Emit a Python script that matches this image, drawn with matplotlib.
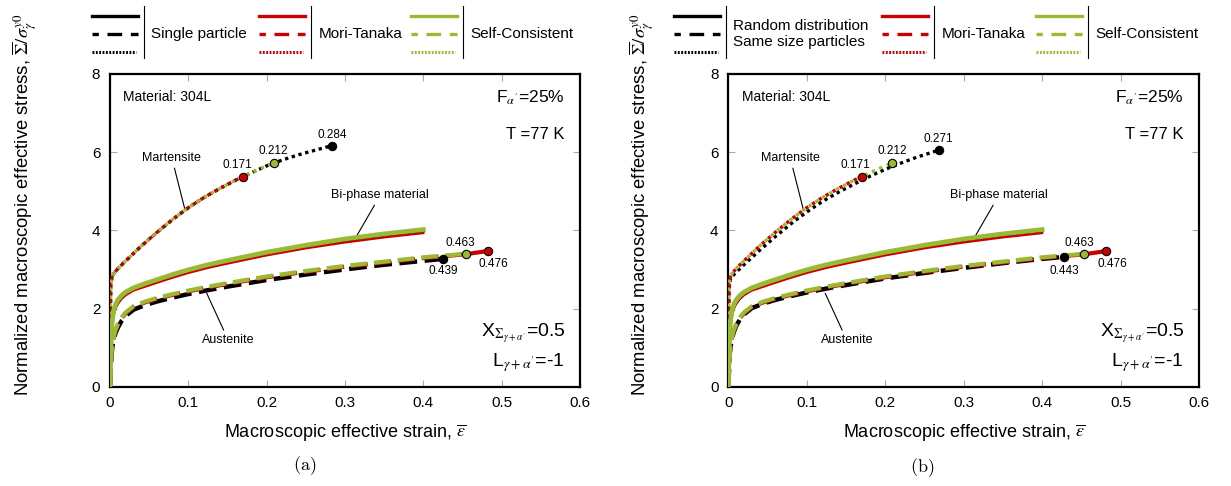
import matplotlib.pyplot as plt
from matplotlib.lines import Line2D

plt.rcParams['font.family'] = ['Liberation Sans', 'DejaVu Sans']
plt.rcParams['mathtext.fontset'] = 'stix'

BLACK = 'black'
RED = '#cc0000'
GREEN = '#99bb33'

# ---------------- data ----------------
# martensite (dotted); colored curves share one path, black one differs in (b)
mart_eps = [0, 0.0005, 0.001, 0.003, 0.01, 0.02, 0.04, 0.06, 0.08, 0.1, 0.12, 0.14, 0.16,
            0.18, 0.2, 0.22, 0.24, 0.26, 0.2835]
mart_sig = [0, 1.8, 2.6, 2.85, 3.02, 3.22, 3.6, 3.95, 4.28, 4.58, 4.84, 5.07, 5.28,
            5.47, 5.65, 5.8, 5.93, 6.04, 6.17]
mart_eps_black_b = [0, 0.0005, 0.001, 0.003, 0.01, 0.02, 0.04, 0.06, 0.08, 0.1, 0.12, 0.14, 0.16,
                    0.18, 0.2, 0.22, 0.24, 0.268]
mart_sig_black_b = [0, 1.75, 2.5, 2.78, 2.93, 3.12, 3.49, 3.84, 4.17, 4.47, 4.74, 4.97, 5.18,
                    5.38, 5.56, 5.72, 5.87, 6.05]
mart_end_red = 0.170
mart_end_green = 0.209

# bi-phase material (solid)
bi_eps = [0, 0.001, 0.002, 0.003, 0.005, 0.0075, 0.01, 0.015, 0.02, 0.03, 0.045, 0.06, 0.08,
          0.1, 0.125, 0.15, 0.2, 0.25, 0.3, 0.35, 0.4]
bi_sig_green = [0, 0.8, 1.45, 1.72, 1.98, 2.13, 2.22, 2.34, 2.42, 2.53, 2.64, 2.74, 2.87,
                2.99, 3.12, 3.23, 3.44, 3.62, 3.78, 3.91, 4.02]
bi_sig_black = [0, 0.78, 1.4, 1.66, 1.9, 2.05, 2.15, 2.28, 2.37, 2.49, 2.6, 2.7, 2.83,
                2.95, 3.08, 3.19, 3.4, 3.58, 3.74, 3.87, 3.98]
bi_sig_red = [0, 0.76, 1.37, 1.63, 1.87, 2.02, 2.12, 2.25, 2.34, 2.46, 2.56, 2.66, 2.79,
              2.91, 3.04, 3.15, 3.36, 3.54, 3.69, 3.82, 3.93]

# austenite (dashed)
aus_eps = [0, 0.002, 0.004, 0.007, 0.01, 0.015, 0.02, 0.03, 0.045, 0.06, 0.08, 0.1, 0.125,
           0.15, 0.2, 0.25, 0.3, 0.35, 0.4, 0.454, 0.482]
aus_sig_green = [0, 0.9, 1.22, 1.45, 1.6, 1.78, 1.9, 2.06, 2.18, 2.27, 2.37, 2.46, 2.56,
                 2.65, 2.82, 2.96, 3.09, 3.2, 3.31, 3.40]
aus_sig_red = [0, 0.88, 1.2, 1.43, 1.58, 1.76, 1.88, 2.04, 2.16, 2.25, 2.35, 2.44, 2.54,
               2.63, 2.8, 2.94, 3.07, 3.18, 3.29, 3.39, 3.47]
aus_eps_black_a = [0, 0.002, 0.004, 0.007, 0.01, 0.015, 0.02, 0.03, 0.045, 0.06, 0.08, 0.1, 0.125,
                   0.15, 0.2, 0.25, 0.3, 0.35, 0.4, 0.425]
aus_sig_black_a = [0, 0.85, 1.15, 1.37, 1.51, 1.69, 1.81, 1.97, 2.09, 2.18, 2.28, 2.37, 2.47,
                   2.56, 2.73, 2.87, 3.0, 3.12, 3.22, 3.27]
aus_eps_black_b = [0, 0.002, 0.004, 0.007, 0.01, 0.015, 0.02, 0.03, 0.045, 0.06, 0.08, 0.1, 0.125,
                   0.15, 0.2, 0.25, 0.3, 0.35, 0.4, 0.428]
aus_sig_black_b = [0, 0.87, 1.18, 1.4, 1.55, 1.73, 1.85, 2.01, 2.13, 2.22, 2.32, 2.41, 2.51,
                   2.6, 2.77, 2.91, 3.04, 3.16, 3.27, 3.32]

# labels next to the end markers
mart_labels_a = ['0.171', '0.212', '0.284']
mart_labels_b = ['0.171', '0.212', '0.271']
aus_labels_a = ['0.476', '0.463', '0.439']
aus_labels_b = ['0.476', '0.463', '0.443']

legend_a = ['Single particle', 'Mori-Tanaka', 'Self-Consistent']
legend_b = ['Random distribution\nSame size particles', 'Mori-Tanaka', 'Self-Consistent']

x_ticks = [0, 0.1, 0.2, 0.3, 0.4, 0.5, 0.6]
x_ticklabels = ['0', '0.1', '0.2', '0.3', '0.4', '0.5', '0.6']
y_ticks = [0, 2, 4, 6, 8]

W, H = 1231, 486
DASH = (0, (4.0, 1.7))


def cut(eps, sig, end):
    xs = [e for e in eps if e <= end]
    ys = list(sig[:len(xs)])
    if xs[-1] < end:
        i = len(xs)
        t = (end - eps[i - 1]) / (eps[i] - eps[i - 1])
        xs.append(end)
        ys.append(sig[i - 1] + t * (sig[i] - sig[i - 1]))
    return xs, ys


def draw_panel(ax, mart_black, aus_black, mart_label_txt, aus_label_txt):
    # martensite
    bx, by = mart_black
    ax.plot(bx, by, color=BLACK, lw=2.4, ls=(0, (1, 1.1)), zorder=3)
    rx, ry = cut(mart_eps, mart_sig, mart_end_red)
    gx, gy = cut(mart_eps, mart_sig, mart_end_green)
    ax.plot(rx, ry, color=RED, lw=2.4, ls=(1.2, (1, 1.4)), zorder=4)
    ax.plot(gx, gy, color=GREEN, lw=2.4, ls=(0, (1, 1.4)), zorder=5)

    # bi-phase
    ax.plot(bi_eps, bi_sig_black, color=BLACK, lw=2.0, zorder=3)
    ax.plot(bi_eps, bi_sig_red, color=RED, lw=1.6, zorder=4)
    ax.plot(bi_eps, bi_sig_green, color=GREEN, lw=3.4, zorder=5)

    # austenite
    ax.plot(aus_black[0], aus_black[1], color=BLACK, lw=3.2, ls=DASH, zorder=3)
    ax.plot(aus_eps, aus_sig_red, color=RED, lw=3.0, ls=DASH, zorder=4)
    ax.plot(aus_eps[:len(aus_sig_green)], aus_sig_green, color=GREEN, lw=3.0, ls=DASH, zorder=5)

    # end markers
    mk = dict(marker='o', ms=6, mec='black', mew=0.8, zorder=7, ls='none')
    ax.plot(rx[-1], ry[-1], mfc=RED, **mk)
    ax.plot(gx[-1], gy[-1], mfc=GREEN, **mk)
    ax.plot(bx[-1], by[-1], mfc=BLACK, **mk)
    ax.plot(aus_eps[-1], aus_sig_red[-1], mfc=RED, **mk)
    ax.plot(aus_eps[len(aus_sig_green) - 1], aus_sig_green[-1], mfc=GREEN, **mk)
    ax.plot(aus_black[0][-1], aus_black[1][-1], mfc=BLACK, **mk)

    fs = 8.5
    ax.text(rx[-1] - 0.008, ry[-1] + 0.3, mart_label_txt[0], fontsize=fs, ha='center', va='center')
    ax.text(gx[-1], gy[-1] + 0.3, mart_label_txt[1], fontsize=fs, ha='center', va='center')
    ax.text(bx[-1], by[-1] + 0.28, mart_label_txt[2], fontsize=fs, ha='center', va='center')
    ax.text(0.4896, 3.13, aus_label_txt[0], fontsize=fs, ha='center', va='center')
    ax.text(0.447, 3.68, aus_label_txt[1], fontsize=fs, ha='center', va='center')
    ax.text(aus_black[0][-1], 2.96, aus_label_txt[2], fontsize=fs, ha='center', va='center')

    # curve labels
    ap = dict(arrowstyle='-', lw=0.8, color='black', shrinkA=1, shrinkB=0)
    ax.annotate('Martensite', xy=(0.0958, 4.52), xytext=(0.079, 5.85), fontsize=9,
                ha='center', va='center', arrowprops=ap)
    ax.annotate('Bi-phase material', xy=(0.315, 3.86), xytext=(0.345, 4.90), fontsize=9,
                ha='center', va='center', arrowprops=ap)
    ax.annotate('Austenite', xy=(0.1235, 2.39), xytext=(0.151, 1.19), fontsize=9,
                ha='center', va='center', arrowprops=ap)

    ax.text(0.017, 7.42, 'Material: 304L', fontsize=10, ha='left', va='center')
    ax.text(0.580, 7.38, r"F$_{\alpha'}$=25%", fontsize=12.5, ha='right', va='center')
    ax.text(0.580, 6.44, 'T =77 K', fontsize=12, ha='right', va='center')
    ax.text(0.582, 1.37, r"X$_{\Sigma_{\gamma+\alpha'}}$=0.5", fontsize=14, ha='right', va='center')
    ax.text(0.580, 0.61, r"L$_{\gamma+\alpha'}$=-1", fontsize=14, ha='right', va='center')

    ax.set_xlim(0, 0.6)
    ax.set_ylim(0, 8)
    ax.set_xticks(x_ticks)
    ax.set_xticklabels(x_ticklabels)
    ax.set_yticks(y_ticks)
    ax.tick_params(direction='in', top=True, right=True, length=5, width=0.8,
                   color='#aaaaaa', labelsize=11, pad=7)
    for s in ax.spines.values():
        s.set_linewidth(1.6)
    ax.set_xlabel(r'Macroscopic effective strain, $\overline{\varepsilon}$', fontsize=13, labelpad=8)


def legend(fig, x0s, texts):
    ys = [16, 34, 52]
    for x0, txt, col in zip(x0s, texts, [BLACK, RED, GREEN]):
        x1 = x0 + 46
        fig.add_artist(Line2D([x0 / W, x1 / W], [1 - ys[0] / H] * 2, color=col, lw=2.4,
                              transform=fig.transFigure))
        fig.add_artist(Line2D([x0 / W, x1 / W], [1 - ys[1] / H] * 2, color=col, lw=2.4,
                              ls=(2.5, (4.4, 2.6)), transform=fig.transFigure))
        fig.add_artist(Line2D([x0 / W, (x1 - 2) / W], [1 - ys[2] / H] * 2, color=col, lw=2.2,
                              ls=(0, (0.6, 0.5)), transform=fig.transFigure))
        sx = x0 + 52
        fig.add_artist(Line2D([sx / W, sx / W], [1 - 6 / H, 1 - 58 / H], color='black', lw=0.8,
                              transform=fig.transFigure))
        fig.text((sx + 7) / W, 1 - 34 / H, txt, fontsize=11, ha='left', va='center',
                 linespacing=1.15)


fig = plt.figure(figsize=(W / 100, H / 100), dpi=100)
ax_a = fig.add_axes([110 / W, 1 - 386.7 / H, 470 / W, 312.7 / H])
ax_b = fig.add_axes([728.3 / W, 1 - 386.7 / H, 470.7 / W, 312.7 / H])

draw_panel(ax_a, (mart_eps, mart_sig), (aus_eps_black_a, aus_sig_black_a),
           mart_labels_a, aus_labels_a)
draw_panel(ax_b, (mart_eps_black_b, mart_sig_black_b), (aus_eps_black_b, aus_sig_black_b),
           mart_labels_b, aus_labels_b)

ylab = r'Normalized macroscopic effective stress, $\overline{\Sigma}/\sigma_{\gamma}^{y0}$'
fig.text(25 / W, 1 - 205 / H, ylab, rotation=90, fontsize=13.3, ha='center', va='center')
fig.text(642 / W, 1 - 205 / H, ylab, rotation=90, fontsize=13.3, ha='center', va='center')

fig.text(305 / W, 1 - 466 / H, r'$\mathrm{(a)}$', fontsize=13, ha='center', va='center',
         math_fontfamily='cm')
fig.text(922 / W, 1 - 468 / H, r'$\mathrm{(b)}$', fontsize=13, ha='center', va='center',
         math_fontfamily='cm')

legend(fig, [91.7, 259.3, 411], legend_a)
legend(fig, [674, 882.3, 1036], legend_b)

fig.savefig('out.png', dpi=100)
